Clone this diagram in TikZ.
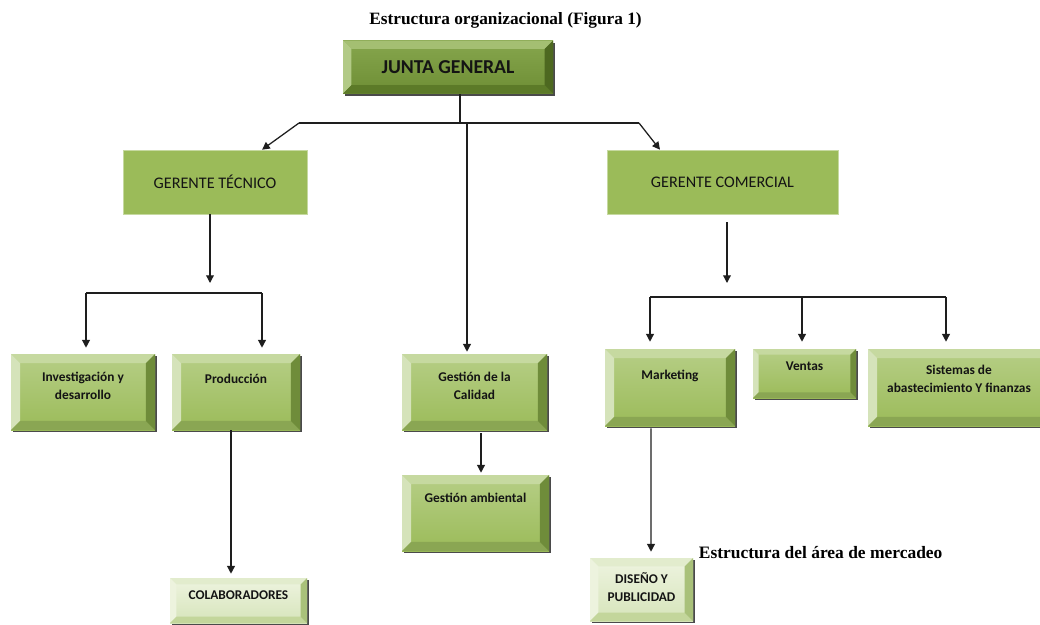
\documentclass[tikz,border=0pt]{standalone}
\usepackage{fontspec}
\setmainfont{Carlito}
\newfontfamily\titlefont{Liberation Serif}
\usetikzlibrary{arrows.meta,shadows}

\newlength\pxu
\setlength\pxu{0.025cm}

\definecolor{linec}{HTML}{1E1E1E}
\definecolor{textc}{HTML}{141414}
\definecolor{shadowc}{HTML}{4A4A4A}
% green boxes
\definecolor{gface}{HTML}{9BBB59}
\definecolor{gfacetop}{HTML}{B6CE86}
\definecolor{gtop}{HTML}{C6D9A0}
\definecolor{gleft}{HTML}{D5E3BA}
\definecolor{gbot}{HTML}{8AA653}
\definecolor{gright}{HTML}{6F8C3A}
% junta
\definecolor{jface}{HTML}{6E8E35}
\definecolor{jfacetop}{HTML}{86A64D}
\definecolor{jtop}{HTML}{A4BF72}
\definecolor{jleft}{HTML}{B2CA86}
\definecolor{jbot}{HTML}{5C7A28}
\definecolor{jright}{HTML}{4D6820}
% pale boxes
\definecolor{pface}{HTML}{D6E4BA}
\definecolor{pfacetop}{HTML}{EEF4E0}
\definecolor{ptop}{HTML}{E2ECCD}
\definecolor{pleft}{HTML}{EDF3DE}
\definecolor{pbot}{HTML}{C3D69B}
\definecolor{pright}{HTML}{A9C17A}

% bevel faces: width, top, left, bottom, right
\newcommand{\bevelfaces}[5]{%
  \fill[#2] (path picture bounding box.north west) -- (path picture bounding box.north east)
    -- ([xshift=-#1,yshift=-#1]path picture bounding box.north east)
    -- ([xshift=#1,yshift=-#1]path picture bounding box.north west) -- cycle;
  \fill[#3] (path picture bounding box.north west) -- (path picture bounding box.south west)
    -- ([xshift=#1,yshift=#1]path picture bounding box.south west)
    -- ([xshift=#1,yshift=-#1]path picture bounding box.north west) -- cycle;
  \fill[#4] (path picture bounding box.south west) -- (path picture bounding box.south east)
    -- ([xshift=-#1,yshift=#1]path picture bounding box.south east)
    -- ([xshift=#1,yshift=#1]path picture bounding box.south west) -- cycle;
  \fill[#5] (path picture bounding box.south east) -- (path picture bounding box.north east)
    -- ([xshift=-#1,yshift=-#1]path picture bounding box.north east)
    -- ([xshift=-#1,yshift=#1]path picture bounding box.south east) -- cycle;
}

\tikzset{
  conn/.style={draw=linec, line width=0.9pt},
  arr/.style={conn, -{Triangle[length=5.5pt,width=5.5pt]}},
  flatbox/.style={rectangle, fill=gface, draw=gtop, line width=0.4pt,
    font=\fontsize{11.5}{13}\selectfont, text=textc},
  bevelbox/.style={rectangle, inner sep=0pt,
    drop shadow={shadow xshift=1.6pt, shadow yshift=-1.6pt, fill=shadowc, opacity=1}},
  greenbox/.style={bevelbox, top color=gfacetop, bottom color=gface,
    path picture={\bevelfaces{#1}{gtop}{gleft}{gbot}{gright}}},
  greenbox/.default=6.5pt,
  juntabox/.style={bevelbox, top color=jfacetop, bottom color=jface,
    path picture={\bevelfaces{6pt}{jtop}{jleft}{jbot}{jright}}},
  palebox/.style={bevelbox, top color=pfacetop, bottom color=pface,
    path picture={\bevelfaces{#1}{ptop}{pleft}{pbot}{pright}}},
  palebox/.default=6pt,
  boxtext/.style={anchor=north, align=center, text=textc,
    font=\bfseries\fontsize{9.5}{12.8}\selectfont},
  titletext/.style={font=\titlefont\bfseries\fontsize{12.3}{14}\selectfont, text=black},
}

\begin{document}
\begin{tikzpicture}[x=0.025cm, y=-0.025cm]
  \useasboundingbox (0,0) rectangle (1040,625);

  %% titles
  \node[titletext] (title) at (505.5,20) {Estructura organizacional (Figura 1)};
  \node[titletext, anchor=west, font=\titlefont\bfseries\fontsize{12.4}{14}\selectfont] (subtitle) at (694,553) {Estructura del área de mercadeo};

  %% top level
  \node[juntabox, minimum width=210\pxu, minimum height=53\pxu,
    font=\bfseries\fontsize{14}{16}\selectfont, text=textc] (junta) at (448,67) {JUNTA GENERAL};

  %% managers
  \node[flatbox, minimum width=184\pxu, minimum height=64\pxu] (tecnico) at (215,182) {GERENTE TÉCNICO};
  \node[flatbox, minimum width=231\pxu, minimum height=64\pxu] (comercial) at (722.5,182) {GERENTE COMERCIAL};

  %% technical side
  \node[greenbox, minimum width=144\pxu, minimum height=76\pxu,
    label={[boxtext,yshift=-13\pxu]north:Investigación y\\desarrollo}] (invest) at (83,392) {};
  \node[greenbox, minimum width=128\pxu, minimum height=76\pxu,
    label={[boxtext,yshift=-15\pxu]north:Producción}] (produccion) at (236,392) {};
  \node[palebox=4.5pt, minimum width=137\pxu, minimum height=45\pxu,
    label={[boxtext,yshift=-8\pxu]north:COLABORADORES}] (colab) at (238.5,600.5) {};

  %% quality
  \node[greenbox, minimum width=145\pxu, minimum height=76\pxu,
    label={[boxtext,yshift=-13\pxu]north:Gestión de la\\Calidad}] (calidad) at (474.5,392) {};
  \node[greenbox, minimum width=147\pxu, minimum height=76\pxu,
    label={[boxtext,yshift=-13\pxu]north:Gestión ambiental}] (ambiental) at (475.5,513) {};

  %% commercial side
  \node[greenbox, minimum width=130\pxu, minimum height=77\pxu,
    label={[boxtext,yshift=-16\pxu]north:Marketing}] (marketing) at (670,387.5) {};
  \node[greenbox=4pt, minimum width=103\pxu, minimum height=49\pxu,
    label={[boxtext,yshift=-8\pxu]north:Ventas}] (ventas) at (804.5,373.5) {};
  \node[greenbox, minimum width=182\pxu, minimum height=77\pxu,
    label={[boxtext,yshift=-11\pxu]north:Sistemas de\\abastecimiento Y finanzas}] (sistemas) at (959,387.5) {};
  \node[palebox, minimum width=103\pxu, minimum height=63\pxu,
    label={[boxtext,yshift=-10\pxu]north:DISEÑO Y\\PUBLICIDAD}] (diseno) at (641.5,589.5) {};

  %% connectors from the board
  \coordinate (jsplit) at (460,123);
  \coordinate (jleft) at (299,123);
  \coordinate (jright) at (639,123);
  \coordinate (jmid) at (467,123);
  \draw[conn] (junta.south -| jsplit) -- (jsplit);
  \draw[conn] (jleft) -- (jright);
  \draw[arr] (jleft) -- ([xshift=47\pxu]tecnico.north);
  \draw[arr] (jright) -- ([xshift=-62.5\pxu]comercial.north);
  \draw[arr, shorten >=2\pxu] (jmid) -- (calidad.north -| jmid);

  %% technical manager
  \coordinate (tdown) at (210,283);
  \coordinate (tleft) at (86,293);
  \coordinate (tright) at (262,293);
  \draw[arr] (tecnico.south -| tdown) -- (tdown);
  \draw[conn] (tleft) -- (tright);
  \draw[arr, shorten >=6\pxu] (tleft) -- (invest.north -| tleft);
  \draw[arr, shorten >=6\pxu] (tright) -- (produccion.north -| tright);
  \draw[arr, shorten >=4\pxu] ([xshift=-5\pxu]produccion.south) -- ([xshift=-7.5\pxu]colab.north);

  %% quality
  \draw[arr, shorten <=3\pxu, shorten >=2\pxu] ([xshift=6.5\pxu]calidad.south) -- ([xshift=5.5\pxu]ambiental.north);

  %% commercial manager
  \coordinate (cdown) at (727,283);
  \coordinate (cleft) at (650,297);
  \coordinate (cmid) at (802,297);
  \coordinate (cright) at (946,297);
  \draw[arr, shorten <=8\pxu] (comercial.south -| cdown) -- (cdown);
  \draw[conn] (cleft) -- (cright);
  \draw[arr, shorten >=7\pxu] (cleft) -- (marketing.north -| cleft);
  \draw[arr, shorten >=7\pxu] (cmid) -- (ventas.north -| cmid);
  \draw[arr, shorten >=7\pxu] (cright) -- (sistemas.north -| cright);
  \draw[arr, shorten <=2\pxu, shorten >=6\pxu] ([xshift=-19\pxu]marketing.south) -- ([xshift=9.5\pxu]diseno.north);
\end{tikzpicture}
\end{document}
